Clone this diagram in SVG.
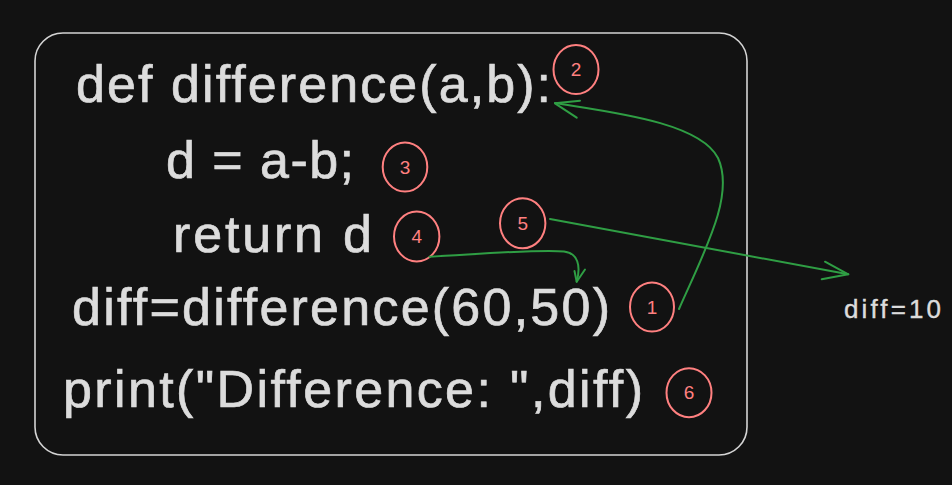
<svg xmlns="http://www.w3.org/2000/svg" width="952" height="485" viewBox="0 0 952 485">
  <defs>
    <style>
      .code { font-family: "Liberation Sans", "Noto Sans", sans-serif; font-size: 52px; fill: #dcdcdc; stroke: #dcdcdc; stroke-width: 0.7px; }
      .note { font-family: "Liberation Sans", "Noto Sans", sans-serif; font-size: 26px; fill: #dcdcdc; stroke: #dcdcdc; stroke-width: 0.4px; }
      .badge ellipse { fill: none; stroke: #ff8080; stroke-width: 2; }
      .badge text { font-family: "Liberation Sans", "Noto Sans", sans-serif; font-size: 19px; fill: #ff8080; text-anchor: middle; }
      .conn path { fill: none; stroke: #2f9e44; stroke-width: 2; stroke-linecap: round; stroke-linejoin: round; }
    </style>
  </defs>
  <rect x="0" y="0" width="952" height="485" fill="#121212"/>

  <g id="code-box">
    <rect x="35" y="33" width="712" height="422" rx="28" ry="28" fill="none" stroke="#d4d4d4" stroke-width="1.6"/>
    <text class="code" x="76" y="102" textLength="475" lengthAdjust="spacing">def difference(a,b):</text>
    <text class="code" x="166" y="178" textLength="188" lengthAdjust="spacing">d = a-b;</text>
    <text class="code" x="173" y="252" textLength="199" lengthAdjust="spacing">return d</text>
    <text class="code" x="72" y="325" textLength="538" lengthAdjust="spacing">diff=difference(60,50)</text>
    <text class="code" x="63" y="407" textLength="580" lengthAdjust="spacing">print("Difference: ",diff)</text>
  </g>

  <g id="badge-1" class="badge"><ellipse cx="652" cy="307" rx="22" ry="24.5"/><text x="652" y="313.5">1</text></g>
  <g id="badge-2" class="badge"><ellipse cx="576" cy="69.5" rx="22.5" ry="24.5"/><text x="576" y="76">2</text></g>
  <g id="badge-3" class="badge"><ellipse cx="405" cy="167" rx="22.3" ry="24.5"/><text x="405" y="173.5">3</text></g>
  <g id="badge-4" class="badge"><ellipse cx="416.7" cy="236.5" rx="22.7" ry="25"/><text x="416.7" y="243">4</text></g>
  <g id="badge-5" class="badge"><ellipse cx="522.7" cy="223.3" rx="22.7" ry="25"/><text x="522.7" y="230">5</text></g>
  <g id="badge-6" class="badge"><ellipse cx="689" cy="392.7" rx="22.5" ry="24.5"/><text x="689" y="399">6</text></g>

  <g id="result-label"><text class="note" x="844" y="318" textLength="97" lengthAdjust="spacing">diff=10</text></g>

  <g id="connectors" class="conn">
    <path d="M679,309 C705,250 735,195 718,158 C700,122 610,112 555,103"/>
    <path d="M580,100.7 L555,103.3 L576.7,117.7"/>
    <path d="M429.5,256.7 C480,254 540,249 564,251.5 C578,253 581,266 576.7,281.7"/>
    <path d="M574.5,271 L576.7,281.7 L585,269.5"/>
    <path d="M550,219 L848.3,274.3"/>
    <path d="M825,261.7 L848.3,274.3 L821.7,279.3"/>
  </g>
</svg>
